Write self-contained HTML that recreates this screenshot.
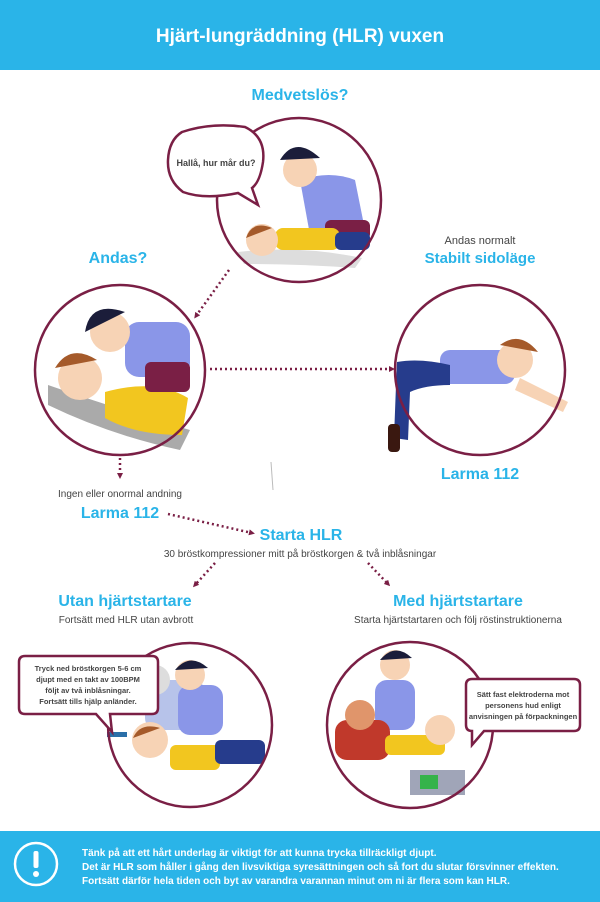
<!DOCTYPE html>
<html><head><meta charset="utf-8"><style>
body{margin:0;width:600px;height:902px;background:#fff;overflow:hidden;font-family:"Liberation Sans",sans-serif}
svg{display:block}
</style></head><body>
<svg width="600" height="902" viewBox="0 0 600 902" xmlns="http://www.w3.org/2000/svg" font-family="Liberation Sans, sans-serif">
<defs>
<marker id="a" markerWidth="6" markerHeight="6" refX="3" refY="3" orient="auto" markerUnits="userSpaceOnUse" viewBox="0 0 6 6"><path d="M0,0L6,3L0,6z" fill="#7a1f45"/></marker>
</defs>
<rect x="0" y="0" width="600" height="70" fill="#2ab4e8"/>
<text x="300" y="42" text-anchor="middle" font-size="19" font-weight="bold" fill="#fff">Hjärt-lungräddning (HLR) vuxen</text>

<text x="300" y="100" text-anchor="middle" font-size="16" font-weight="bold" fill="#2ab4e8">Medvetslös?</text>
<text x="118" y="263" text-anchor="middle" font-size="16" font-weight="bold" fill="#2ab4e8">Andas?</text>
<text x="480" y="244" text-anchor="middle" font-size="11" fill="#444">Andas normalt</text>
<text x="480" y="263" text-anchor="middle" font-size="15" font-weight="bold" fill="#2ab4e8">Stabilt sidoläge</text>
<text x="480" y="479" text-anchor="middle" font-size="16" font-weight="bold" fill="#2ab4e8">Larma 112</text>
<text x="120" y="497" text-anchor="middle" font-size="10" fill="#444">Ingen eller onormal andning</text>
<text x="120" y="518" text-anchor="middle" font-size="16" font-weight="bold" fill="#2ab4e8">Larma 112</text>
<text x="301" y="540" text-anchor="middle" font-size="16" font-weight="bold" fill="#2ab4e8">Starta HLR</text>
<text x="300" y="557" text-anchor="middle" font-size="10" fill="#444">30 bröstkompressioner mitt på bröstkorgen &amp; två inblåsningar</text>
<text x="125" y="606" text-anchor="middle" font-size="16" font-weight="bold" fill="#2ab4e8">Utan hjärtstartare</text>
<text x="126" y="623" text-anchor="middle" font-size="10" fill="#444">Fortsätt med HLR utan avbrott</text>
<text x="458" y="606" text-anchor="middle" font-size="16" font-weight="bold" fill="#2ab4e8">Med hjärtstartare</text>
<text x="458" y="623" text-anchor="middle" font-size="10" fill="#444">Starta hjärtstartaren och följ röstinstruktionerna</text>

<g stroke="#7a1f45" stroke-width="2.5" stroke-dasharray="2 3" fill="none">
<line x1="229" y1="270" x2="196" y2="316" marker-end="url(#a)"/>
<line x1="210" y1="369" x2="392" y2="369" marker-end="url(#a)"/>
<line x1="120" y1="458" x2="120" y2="476" marker-end="url(#a)"/>
<line x1="168" y1="514" x2="252" y2="533" marker-end="url(#a)"/>
<line x1="215" y1="563" x2="195" y2="585" marker-end="url(#a)"/>
<line x1="368" y1="563" x2="388" y2="584" marker-end="url(#a)"/>
</g>
<line x1="271" y1="462" x2="273" y2="490" stroke="#bbb" stroke-width="1"/>

<g fill="#fff">
<circle cx="299" cy="200" r="82"/>
<circle cx="120" cy="370" r="85"/>
<circle cx="480" cy="370" r="85"/>
<circle cx="190" cy="725" r="82"/>
<circle cx="410" cy="725" r="83"/>
</g>
<!-- top -->
<g>
<path d="M238 252 Q300 245 362 258 L355 268 Q300 264 244 264z" fill="#ddd"/>
<path d="M300 180 Q330 170 355 180 L365 230 L310 235z" fill="#8a96e8"/>
<rect x="325" y="220" width="45" height="20" rx="6" fill="#7a1f45"/>
<circle cx="300" cy="170" r="17" fill="#f7d3b5"/><path d="M280 160 Q295 135 320 158 Z" fill="#1b1d3a"/>
<rect x="275" y="228" width="65" height="22" rx="8" fill="#f2c61f"/>
<rect x="335" y="232" width="35" height="18" rx="6" fill="#263c8c"/>
<circle cx="262" cy="240" r="16" fill="#f7d3b5"/><path d="M246 238 Q252 220 272 228Z" fill="#a55a2a"/>
</g>
<!-- Andas -->
<g>
<path d="M48 385 Q120 410 190 430 L180 450 Q110 435 48 405z" fill="#aaa"/>
<path d="M105 392 Q155 378 188 398 L182 435 Q135 435 105 418z" fill="#f2c61f"/>
<rect x="125" y="322" width="65" height="55" rx="14" fill="#8a96e8"/>
<rect x="145" y="362" width="45" height="30" rx="6" fill="#7a1f45"/>
<circle cx="80" cy="378" r="22" fill="#f7d3b5"/><path d="M55 368 Q70 343 97 360Z" fill="#a55a2a"/>
<circle cx="110" cy="332" r="20" fill="#f7d3b5"/><path d="M85 332 Q90 300 125 312Z" fill="#1b1d3a"/>
</g>
<!-- right -->
<g>
<rect x="440" y="350" width="75" height="34" rx="10" fill="#8a96e8"/>
<circle cx="515" cy="360" r="18" fill="#f7d3b5"/><path d="M500 345 Q520 330 538 352Z" fill="#a55a2a"/>
<path d="M397 362 Q420 358 450 365 L450 385 Q425 385 410 392 L408 440 L394 438 L396 385z" fill="#263c8c"/>
<rect x="388" y="424" width="12" height="28" rx="4" fill="#3a1810"/>
<path d="M520 378 L568 402 L563 412 L515 390z" fill="#f7d3b5"/>
</g>
<!-- bottom-left -->
<g>
<rect x="145" y="680" width="60" height="50" rx="12" fill="#b7c3ea"/>
<circle cx="155" cy="680" r="15" fill="#ddd"/>
<rect x="178" y="685" width="45" height="50" rx="12" fill="#8a96e8"/>
<circle cx="190" cy="675" r="15" fill="#f7d3b5"/><path d="M175 670 Q190 652 208 668Z" fill="#1b1d3a"/>
<rect x="170" y="745" width="50" height="25" rx="6" fill="#f2c61f"/>
<rect x="215" y="740" width="50" height="24" rx="6" fill="#263c8c"/>
<circle cx="150" cy="740" r="18" fill="#f7d3b5"/><path d="M133 738 Q140 722 160 728Z" fill="#a55a2a"/>
<rect x="107" y="732" width="20" height="5" fill="#2a6fa8"/>
</g>
<!-- bottom-right -->
<g>
<rect x="375" y="680" width="40" height="50" rx="12" fill="#8a96e8"/>
<circle cx="395" cy="665" r="15" fill="#f7d3b5"/><path d="M380 660 Q395 642 412 658Z" fill="#1b1d3a"/>
<rect x="335" y="720" width="55" height="40" rx="12" fill="#c0392b"/>
<circle cx="360" cy="715" r="15" fill="#e0956b"/>
<rect x="385" y="735" width="60" height="20" rx="6" fill="#f2c61f"/>
<circle cx="440" cy="730" r="15" fill="#f7d3b5"/>
<rect x="410" y="770" width="55" height="25" fill="#a0a5b8"/><rect x="420" y="775" width="18" height="14" fill="#35b34a"/>
</g>

<g fill="none" stroke="#7a1f45" stroke-width="2.5">
<circle cx="299" cy="200" r="82"/>
<circle cx="120" cy="370" r="85"/>
<circle cx="480" cy="370" r="85"/>
<circle cx="190" cy="725" r="82"/>
<circle cx="410" cy="725" r="83"/>
</g>

<g fill="#fff" stroke="#7a1f45" stroke-width="2.5">
<path d="M182 132 Q212 122 245 127 Q266 137 263 162 Q260 182 252 188 L258 205 L238 193 Q205 200 183 192 Q167 180 168 160 Q169 140 182 132Z"/>
<path d="M25 656 L152 656 Q158 656 158 662 L158 708 Q158 714 152 714 L110 714 L112 732 L96 714 L25 714 Q19 714 19 708 L19 662 Q19 656 25 656Z"/>
<path d="M472 679 L574 679 Q580 679 580 685 L580 725 Q580 731 574 731 L484 731 L472 745 L472 731 Q466 731 466 725 L466 685 Q466 679 472 679Z"/>
</g>
<text x="216" y="166" text-anchor="middle" font-size="9" font-weight="bold" fill="#444">Hallå, hur mår du?</text>
<g font-size="7.5" font-weight="bold" fill="#444" text-anchor="middle">
<text x="88" y="671">Tryck ned bröstkorgen 5-6 cm</text>
<text x="88" y="682">djupt med en takt av 100BPM</text>
<text x="88" y="693">följt av två inblåsningar.</text>
<text x="88" y="704">Fortsätt tills hjälp anländer.</text>
<text x="523" y="697">Sätt fast elektroderna mot</text>
<text x="523" y="708">personens hud enligt</text>
<text x="523" y="719">anvisningen på förpackningen</text>
</g>

<rect x="0" y="831" width="600" height="71" fill="#2ab4e8"/>
<circle cx="36" cy="864" r="21" fill="none" stroke="#fff" stroke-width="2.5"/>
<rect x="33.5" y="851" width="5" height="17" rx="2" fill="#fff"/>
<circle cx="36" cy="874" r="3" fill="#fff"/>
<g font-size="10" font-weight="bold" fill="#fff">
<text x="82" y="856">Tänk på att ett hårt underlag är viktigt för att kunna trycka tillräckligt djupt.</text>
<text x="82" y="870">Det är HLR som håller i gång den livsviktiga syresättningen och så fort du slutar försvinner effekten.</text>
<text x="82" y="884">Fortsätt därför hela tiden och byt av varandra varannan minut om ni är flera som kan HLR.</text>
</g>
</svg>
</body></html>
